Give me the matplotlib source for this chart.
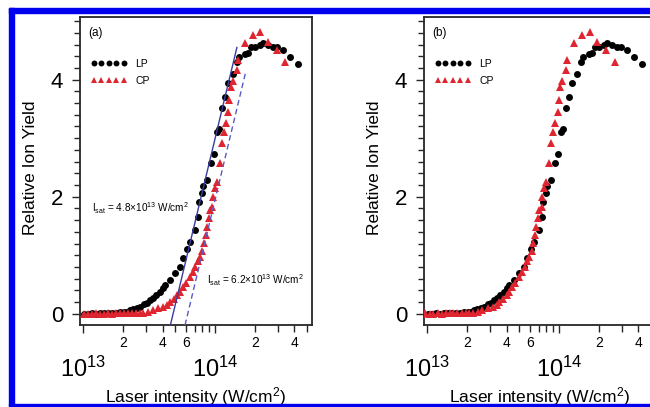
import numpy as np
import matplotlib
matplotlib.use("Agg")
import matplotlib.pyplot as plt
from matplotlib.patches import Rectangle

plt.rcParams['font.family'] = ['Liberation Sans', 'DejaVu Sans']
plt.rcParams['mathtext.fontset'] = 'custom'
plt.rcParams['mathtext.rm'] = 'Liberation Sans'
plt.rcParams['mathtext.it'] = 'Liberation Sans:italic'

# intensities in units of 1e13 W/cm^2, yields in arbitrary units
lp_intensity = np.array([
    1.02, 1.09, 1.17, 1.25, 1.35, 1.44, 1.55, 1.66, 1.78, 1.91, 2.04, 2.15,
    2.27, 2.39, 2.56, 2.70, 2.90, 3.05, 3.22, 3.39, 3.57, 3.83, 4.04, 4.18,
    4.56, 4.98, 5.43, 5.75, 6.13, 6.46, 7.06, 7.43, 7.56, 7.98, 8.11, 8.70,
    9.34, 9.82, 10.35, 10.74, 11.3, 11.9, 12.6, 13.7, 14.6, 15.2, 16.9, 17.8,
    18.7, 20.1, 22.0, 23.1, 25.2, 27.5, 29.5, 32.8, 37.0, 42.6]) * 1e13
lp_yield = np.array([
    0.00, 0.00, 0.01, 0.00, 0.01, 0.01, 0.02, 0.02, 0.02, 0.03, 0.03, 0.04,
    0.06, 0.08, 0.10, 0.12, 0.17, 0.19, 0.23, 0.27, 0.32, 0.38, 0.44, 0.50,
    0.58, 0.70, 0.80, 0.95, 1.10, 1.23, 1.44, 1.66, 1.91, 2.07, 2.19, 2.29,
    2.58, 2.73, 3.11, 3.15, 3.52, 3.71, 3.95, 4.09, 4.31, 4.39, 4.43, 4.46,
    4.56, 4.56, 4.60, 4.63, 4.60, 4.55, 4.56, 4.51, 4.39, 4.26])

cp_intensity = np.array([
    1.02, 1.09, 1.17, 1.25, 1.35, 1.44, 1.55, 1.66, 1.78, 1.91, 2.04, 2.19,
    2.35, 2.52, 2.70, 2.85, 3.11, 3.39, 3.70, 4.04, 4.33, 4.56, 4.89, 5.16,
    5.43, 5.72, 6.03, 6.46, 6.80, 7.06, 7.43, 7.69, 7.98, 8.25, 8.55, 8.70,
    9.00, 9.16, 9.50, 9.66, 10.0, 10.35, 10.9, 11.3, 11.7, 12.1, 12.6, 12.8,
    13.2, 13.7, 14.6, 14.9, 16.9, 19.4, 22.0, 25.2, 29.5, 34.0]) * 1e13
cp_yield = np.array([
    0.00, 0.00, 0.00, 0.01, 0.00, 0.00, 0.01, 0.00, 0.01, 0.01, 0.01, 0.01,
    0.01, 0.02, 0.02, 0.02, 0.04, 0.07, 0.10, 0.12, 0.16, 0.20, 0.26, 0.32,
    0.38, 0.46, 0.53, 0.63, 0.72, 0.80, 0.90, 0.97, 1.08, 1.21, 1.35, 1.49,
    1.63, 1.78, 1.83, 2.00, 2.15, 2.26, 2.58, 2.92, 3.10, 3.26, 3.45, 3.66,
    3.88, 3.97, 4.17, 4.34, 4.63, 4.77, 4.82, 4.65, 4.51, 4.31])

# saturation intensities from the linear fits (W/cm^2)
ISAT_LP = 4.8e13
ISAT_CP = 6.2e13
FIT_SLOPE = 9.4          # yield per decade
fit_lp_range = [-0.19, 4.55]
fit_cp_range = [-0.19, 4.1]

minor_vals = [2e13, 3e13, 4e13, 5e13, 6e13, 7e13, 8e13, 9e13, 2e14, 3e14, 4e14, 5e14]
minor_labels = ['2', '', '4', '', '6', '', '', '', '2', '', '4', '']

RED = '#df2630'
SPINE = '#262626'

fig = plt.figure(figsize=(6.5, 4.07), dpi=100)


def style_axes(ax, tag):
    ax.set_xscale('log')
    ax.set_xlim(9.45e12, 5.43e14)
    ax.set_ylim(-0.19, 5.07)
    ax.set_xticks([1e13, 1e14])
    ax.set_xticklabels([r'$10^{13}$', r'$10^{14}$'])
    ax.set_xticks(minor_vals, minor=True)
    ax.set_xticklabels(minor_labels, minor=True)
    ax.set_yticks([0, 2, 4])
    ax.set_yticks(np.arange(0, 5.01, 0.2), minor=True)
    ax.tick_params(axis='x', which='major', direction='out', length=6, width=1,
                   labelsize=17, pad=17, color=SPINE)
    ax.tick_params(axis='x', which='minor', direction='out', length=5, width=1,
                   labelsize=10, pad=3, color=SPINE)
    ax.tick_params(axis='y', which='major', direction='out', length=6, width=1,
                   labelsize=16, pad=6, color=SPINE)
    ax.tick_params(axis='y', which='minor', direction='out', length=4, width=1,
                   color=SPINE)
    for sp in ax.spines.values():
        sp.set_color(SPINE)
        sp.set_linewidth(1.3)
    ax.set_xlabel('Laser intensity (W/cm$^2$)', fontsize=12.5)
    ax.xaxis.set_label_coords(0.5, -0.195)
    ax.set_ylabel('Relative Ion Yield', fontsize=12.5)
    ax.yaxis.set_label_coords(-0.18, 0.51)
    ax.text(0.035, 0.948, tag, transform=ax.transAxes, fontsize=8.5,
            ha='left', va='center')


def draw_data(ax, cp_x):
    ax.plot(lp_intensity, lp_yield, 'o', color='black', ms=5, mec='black',
            mew=0, label='LP', zorder=3)
    ax.plot(cp_x, cp_yield, '^', color=RED, ms=5.5, mec=RED, mew=0,
            label='CP', zorder=4)
    ax.legend(loc='upper left', bbox_to_anchor=(0.045, 0.865), frameon=False,
              numpoints=5, handlelength=3.5, handletextpad=0.8,
              labelspacing=0.7, borderpad=0, borderaxespad=0,
              fontsize=7.5, markerscale=0.85)


# (a) raw yields with saturation fits
ax1 = fig.add_axes([80 / 650, 1 - 325 / 407, 232 / 650, 308 / 407])
style_axes(ax1, '(a)')
draw_data(ax1, cp_intensity)

fit_y = np.array(fit_lp_range)
ax1.plot(ISAT_LP * 10 ** (fit_y / FIT_SLOPE), fit_y, '-', color='#3c3ca0',
         lw=1.0, zorder=5)
fit_y = np.array(fit_cp_range)
ax1.plot(ISAT_CP * 10 ** (fit_y / FIT_SLOPE), fit_y, '--', color='#5a5ac8',
         lw=1.0, dashes=(4, 2.5), zorder=5)

ax1.text(0.052, 0.38,
         r'I$_{\rm sat}$ = 4.8$\times$10$^{13}$ W/cm$^2$',
         transform=ax1.transAxes, fontsize=7.2, ha='left', va='center')
ax1.text(0.547, 0.146,
         r'I$_{\rm sat}$ = 6.2$\times$10$^{13}$ W/cm$^2$',
         transform=ax1.transAxes, fontsize=7.2, ha='left', va='center')

# (b) CP intensities rescaled by the ratio of saturation intensities
ax2 = fig.add_axes([424 / 650, 1 - 325 / 407, 232 / 650, 308 / 407])
style_axes(ax2, '(b)')
draw_data(ax2, cp_intensity * ISAT_LP / ISAT_CP)

# blue frame around the figure
W, H = 650.0, 407.0
frame = dict(color='#0000ee', transform=fig.transFigure, zorder=10,
             clip_on=False)
fig.patches.append(Rectangle((9 / W, 1 - 13 / H), 1, 5 / H, **frame))
fig.patches.append(Rectangle((9 / W, 1 - 406 / H), 5 / W, 398 / H, **frame))
fig.patches.append(Rectangle((9 / W, 1 - 406 / H), 1, 2 / H, **frame))

fig.savefig('out.png', dpi=100)
